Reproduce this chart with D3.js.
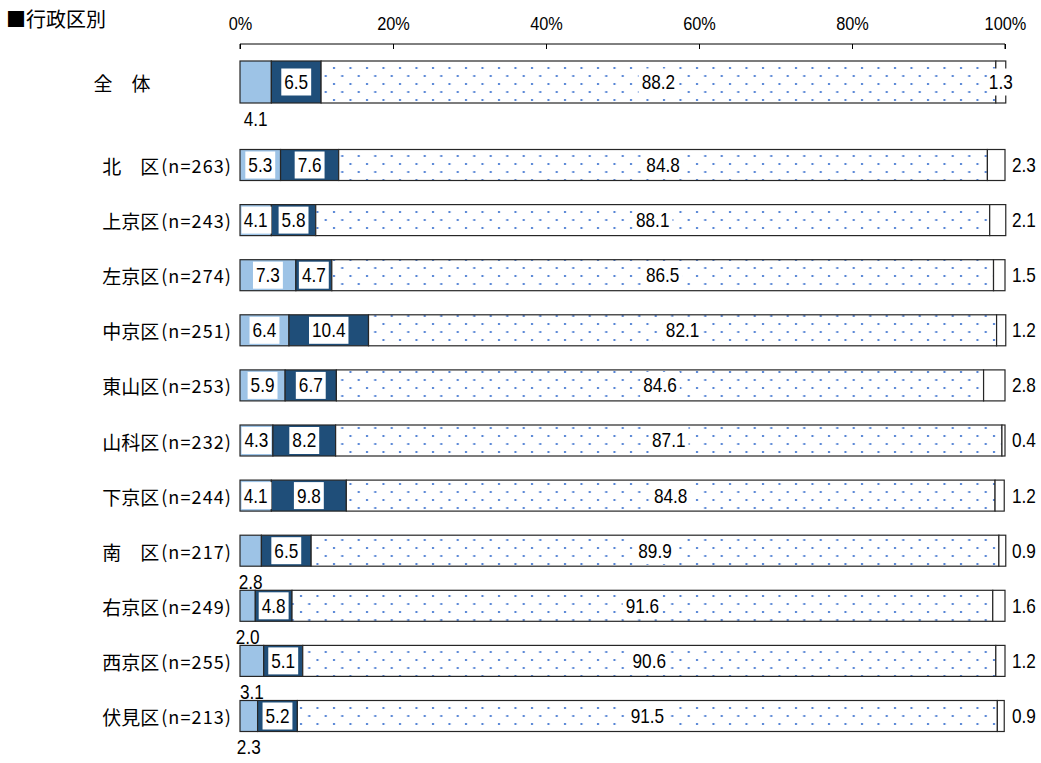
<!DOCTYPE html>
<html><head><meta charset="utf-8">
<script src="https://cdn.jsdelivr.net/npm/d3@7"></script>
<style>
body{margin:0;background:#fff;}
svg{display:block;}
</style></head>
<body>
<svg id="chart" width="1041" height="763"></svg>
<script>
const categories = ["全　体","北　区","上京区","左京区","中京区","東山区","山科区","下京区","南　区","右京区","西京区","伏見区"];
const sampleSizes = ["", "(n=263)","(n=243)","(n=274)","(n=251)","(n=253)","(n=232)","(n=244)","(n=217)","(n=249)","(n=255)","(n=213)"];
const v1 = [4.1,5.3,4.1,7.3,6.4,5.9,4.3,4.1,2.8,2.0,3.1,2.3];
const v2 = [6.5,7.6,5.8,4.7,10.4,6.7,8.2,9.8,6.5,4.8,5.1,5.2];
const v3 = [88.2,84.8,88.1,86.5,82.1,84.6,87.1,84.8,89.9,91.6,90.6,91.5];
const v4 = [1.3,2.3,2.1,1.5,1.2,2.8,0.4,1.2,0.9,1.6,1.2,0.9];
const firstLabelBelow = [true,false,false,false,false,false,false,false,true,true,true,true];
const tickValues = [0,20,40,60,80,100];
const tickLabels = ["0%","20%","40%","60%","80%","100%"];
const title = "■行政区別";

const svg = d3.select("#chart");
const NUMFONT = "'Liberation Sans', Arial, sans-serif";
const JPFONT = "'Noto Sans CJK JP', sans-serif";

const x = d3.scaleLinear().domain([0,100]).range([240,1005]);
const districts = categories.slice(1);
const yPt = d3.scalePoint().domain(districts).range([165,716]);
function rowCenter(i){ return i===0 ? 82 : yPt(categories[i]); }
function rowHeight(i){ return i===0 ? 42 : 31; }

// pattern
const defs = svg.append("defs");
const pat = defs.append("pattern").attr("id","dots").attr("patternUnits","userSpaceOnUse")
  .attr("width",16.5).attr("height",16);
pat.append("rect").attr("width",16.5).attr("height",16).attr("fill","#fff");
pat.append("rect").attr("x",3).attr("y",3).attr("width",2).attr("height",2).attr("fill","#5080D4");
pat.append("rect").attr("x",11.25).attr("y",11).attr("width",2).attr("height",2).attr("fill","#5080D4");

// title
svg.append("text").attr("x",6).attr("y",27).attr("font-family",JPFONT).attr("font-size",20)
  .attr("fill","#000").text(title);

// numeric text helper (condensed, tall)
function numText(g, tx, ty, str, anchor, size){
  return g.append("text").attr("transform",`translate(${tx},${ty}) scale(0.86,1)`)
    .attr("text-anchor",anchor||"middle").attr("dominant-baseline","central")
    .attr("font-family",NUMFONT).attr("font-size",size||20).attr("fill","#000").text(str);
}

// axis
const axis = d3.axisTop(x).tickValues(tickValues).tickSize(-5).tickFormat(()=> "");
const ag = svg.append("g").attr("transform","translate(0,44)").call(axis);
ag.select(".domain").attr("d", `M${x(0)},5V0H${x(100)}V5`).attr("stroke","#000");
ag.selectAll(".tick line").attr("stroke","#000");
ag.selectAll(".tick").each(function(d,i){
  numText(d3.select(this), 0, -20, tickLabels[i], "middle", 19);
});

const series = [v1,v2,v3,v4];
const fills = ["#9DC3E6","#1F4E79","url(#dots)","#ffffff"];

categories.forEach((cat,i)=>{
  const cy = rowCenter(i), h = rowHeight(i), y0 = cy - h/2;
  const g = svg.append("g");
  let cum = 0;
  const segs = series.map((s,k)=>{ const a = cum; cum += s[i]; return {k, a, b: cum, v: s[i]}; });
  g.selectAll("rect.seg").data(segs).enter().append("rect").attr("class","seg")
    .attr("x",d=>x(d.a)).attr("y",y0).attr("width",d=>x(d.b)-x(d.a)).attr("height",h)
    .attr("fill",d=>fills[d.k]).attr("stroke","#262626").attr("stroke-width",1.2);

  // category label
  if(i===0){
    g.append("text").attr("x",122).attr("y",cy).attr("text-anchor","middle").attr("dominant-baseline","central")
      .attr("font-family",JPFONT).attr("font-size",19).attr("fill","#000").text(cat);
  } else {
    const t = g.append("text").attr("x",232).attr("y",cy).attr("text-anchor","end").attr("dominant-baseline","central")
      .attr("font-family",JPFONT).attr("font-size",19).attr("fill","#000");
    t.append("tspan").text(cat);
    t.append("tspan").attr("dx",2).attr("font-size",18).attr("letter-spacing",1.1).text(sampleSizes[i]);
  }

  // labels
  segs.forEach(d=>{
    const str = d.v.toFixed(1);
    const cx = (x(d.a)+x(d.b))/2;
    if(d.k===0 && firstLabelBelow[i]){
      numText(g, cx, y0+h+16, str);
      return;
    }
    if(d.k===3 && i!==0){
      numText(g, 1012, cy, str, "start");
      return;
    }
    const t = numText(g, cx, cy, str);
    const bb = t.node().getBBox();
    const w = bb.width*0.86 + 6, hh = Math.min(h-4, 27);
    let bx = cx - w/2;
    if(d.k!==3){ bx = Math.max(bx, x(d.a)+1.5); }
    g.insert("rect", function(){ return t.node(); })
      .attr("x", d.k===3 ? cx - 10 : bx).attr("y", cy-hh/2).attr("width", d.k===3 ? 20 : w).attr("height",hh)
      .attr("fill","#fff");
  });
});
</script>
</body></html>
